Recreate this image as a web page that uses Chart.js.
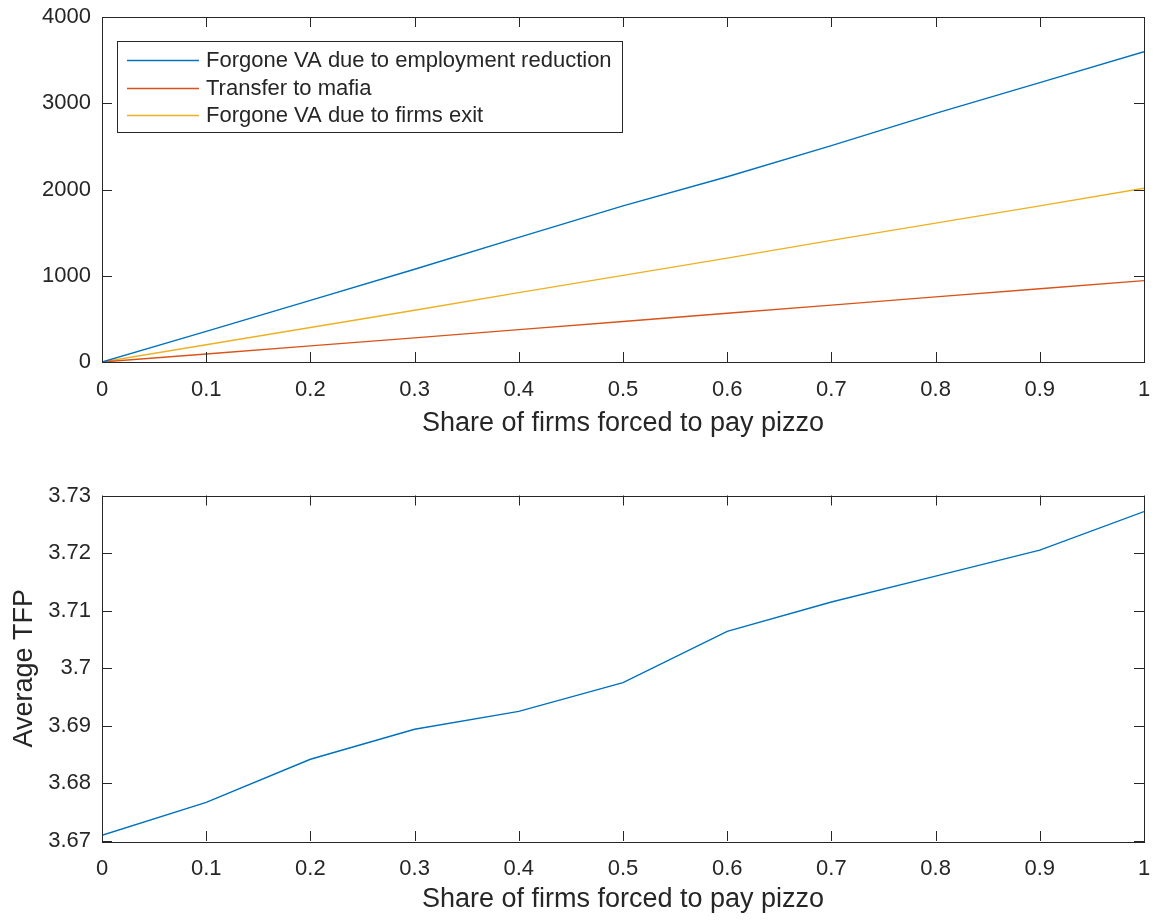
<!DOCTYPE html>
<html>
<head>
<meta charset="utf-8">
<script src="https://cdn.jsdelivr.net/npm/chart.js@4"></script>
<style>
  body { margin: 0; background: #fff; overflow: hidden; }
  #wrap { position: relative; width: 1157px; height: 920px; overflow: hidden; }
  canvas { position: absolute; left: 0; }
  #top { top: -8px; }
  #bottom { top: 460px; }
</style>
</head>
<body>
<div id="wrap">
  <canvas id="top" width="1170" height="458"></canvas>
  <canvas id="bottom" width="1170" height="460"></canvas>
</div>
<script>
// share of firms forced to pay pizzo
const shares = [0, 0.1, 0.2, 0.3, 0.4, 0.5, 0.6, 0.7, 0.8, 0.9, 1];

// top panel series
const forgoneEmployment = [0, 355, 715, 1075, 1445, 1810, 2148, 2508, 2883, 3240, 3598];
const transferMafia = [0, 93, 187, 280, 375, 470, 565, 660, 755, 850, 943];
const forgoneExit = [0, 200, 400, 600, 805, 1005, 1205, 1410, 1610, 1810, 2014];

// bottom panel series
const avgTFP = [3.6710, 3.6767, 3.6842, 3.6894, 3.6925, 3.6975, 3.7064, 3.7115, 3.7160, 3.7205, 3.7272];

const seriesLabels = ['Forgone VA due to employment reduction', 'Transfer to mafia', 'Forgone VA due to firms exit'];
const seriesColors = ['#0072BD', '#D95319', '#EDB120'];

const xTitle = 'Share of firms forced to pay pizzo';
const yTitleBottom = 'Average TFP';

const FONT = 'Liberation Sans, Arial, Helvetica, sans-serif';
const TXT = '#262626';

function pts(ys) {
  return ys.map((y, i) => ({ x: shares[i], y: y }));
}

// MATLAB style box with inward ticks on all four sides
const boxPlugin = {
  id: 'box',
  afterDatasetsDraw(chart) {
    const { ctx, chartArea: a, scales } = chart;
    const len = 10;
    ctx.save();
    ctx.strokeStyle = TXT;
    ctx.lineWidth = 1;
    ctx.strokeRect(Math.round(a.left) + 0.5, Math.round(a.top) + 0.5,
      Math.round(a.right - a.left), Math.round(a.bottom - a.top));
    ctx.beginPath();
    scales.x.ticks.forEach(t => {
      const px = Math.round(scales.x.getPixelForValue(t.value)) + 0.5;
      ctx.moveTo(px, a.bottom); ctx.lineTo(px, a.bottom - len);
      ctx.moveTo(px, a.top); ctx.lineTo(px, a.top + len);
    });
    scales.y.ticks.forEach(t => {
      const py = Math.round(scales.y.getPixelForValue(t.value)) + 0.5;
      ctx.moveTo(a.left, py); ctx.lineTo(a.left + len, py);
      ctx.moveTo(a.right, py); ctx.lineTo(a.right - len, py);
    });
    ctx.stroke();
    ctx.restore();
  }
};

// legend box in the upper left of the plot
const legendPlugin = {
  id: 'boxLegend',
  afterDraw(chart) {
    if (!chart.options.plugins.boxLegend || !chart.options.plugins.boxLegend.show) return;
    const { ctx, chartArea: a } = chart;
    const x0 = Math.round(a.left + 15), y0 = Math.round(a.top + 24);
    const w = 505, rowH = 27.5, h = 91;
    ctx.save();
    ctx.fillStyle = '#fff';
    ctx.fillRect(x0, y0, w, h);
    ctx.strokeStyle = TXT;
    ctx.lineWidth = 1;
    ctx.strokeRect(x0 + 0.5, y0 + 0.5, w, h);
    ctx.font = '22px ' + FONT;
    ctx.textBaseline = 'middle';
    chart.data.datasets.forEach((ds, i) => {
      const cy = Math.round(y0 + 19 + i * rowH);
      ctx.strokeStyle = ds.borderColor;
      ctx.lineWidth = 1.3;
      ctx.beginPath();
      ctx.moveTo(x0 + 10, cy + 0.5);
      ctx.lineTo(x0 + 82, cy + 0.5);
      ctx.stroke();
      ctx.fillStyle = TXT;
      ctx.fillText(ds.label, x0 + 89, cy + 1);
    });
    ctx.restore();
  }
};

function xScale(axisHeight, titleBottom) {
  return {
    type: 'linear', min: 0, max: 1,
    afterFit(s) { s.height = axisHeight; },
    grid: { display: false, drawTicks: false },
    border: { display: false },
    ticks: {
      stepSize: 0.1, padding: 15, color: TXT,
      font: { family: FONT, size: 22 },
      callback: v => String(Number(v.toFixed(1)))
    },
    title: { display: true, text: xTitle, color: TXT, padding: { top: 0, bottom: titleBottom },
      font: { family: FONT, size: 27 } }
  };
}

const commonDataset = { borderWidth: 1.4, pointRadius: 0, tension: 0, fill: false };

new Chart(document.getElementById('top'), {
  type: 'line',
  data: {
    datasets: [
      Object.assign({ label: seriesLabels[0], data: pts(forgoneEmployment), borderColor: seriesColors[0] }, commonDataset),
      Object.assign({ label: seriesLabels[1], data: pts(transferMafia), borderColor: seriesColors[1] }, commonDataset),
      Object.assign({ label: seriesLabels[2], data: pts(forgoneExit), borderColor: seriesColors[2] }, commonDataset)
    ]
  },
  options: {
    responsive: false, animation: false,
    layout: { padding: { top: 25, right: 26, left: 0, bottom: 0 } },
    plugins: { legend: { display: false }, tooltip: { enabled: false }, boxLegend: { show: true } },
    scales: {
      x: xScale(88, 10),
      y: {
        min: 0, max: 4000,
        afterFit(s) { s.width = 102; },
        grid: { display: false, drawTicks: false },
        border: { display: false },
        ticks: { stepSize: 1000, padding: 11, color: TXT, font: { family: FONT, size: 22 },
          callback: v => String(v) }
      }
    }
  },
  plugins: [boxPlugin, legendPlugin]
});

new Chart(document.getElementById('bottom'), {
  type: 'line',
  data: {
    datasets: [
      Object.assign({ label: yTitleBottom, data: pts(avgTFP), borderColor: seriesColors[0] }, commonDataset)
    ]
  },
  options: {
    responsive: false, animation: false,
    layout: { padding: { top: 35.5, right: 26, left: 0, bottom: 0 } },
    plugins: { legend: { display: false }, tooltip: { enabled: false } },
    scales: {
      x: xScale(79, 4),
      y: {
        min: 3.67, max: 3.73,
        afterFit(s) { s.width = 102; },
        grid: { display: false, drawTicks: false },
        border: { display: false },
        ticks: { stepSize: 0.01, padding: 11, color: TXT, font: { family: FONT, size: 22 },
          callback: v => String(Number(v.toFixed(2))) },
        title: { display: true, text: yTitleBottom, color: TXT, padding: { top: 8, bottom: 0 },
          font: { family: FONT, size: 27 } }
      }
    }
  },
  plugins: [boxPlugin]
});
</script>
</body>
</html>
